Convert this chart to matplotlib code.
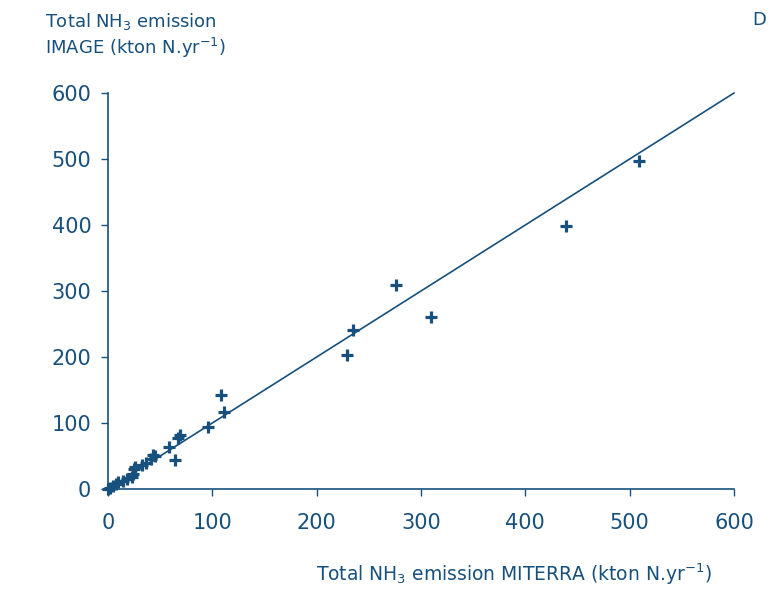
import matplotlib.pyplot as plt
import numpy as np

# MITERRA vs IMAGE total NH3 emission (kton N/yr)
miterra = [0, 2, 5, 8, 10, 14, 18, 23, 24, 25, 26, 33, 36, 41, 43, 45,
           58, 64, 67, 69, 96, 108, 111, 229, 235, 276, 310, 439, 509]
image = [0, 2, 4, 7, 10, 12, 15, 18, 23, 30, 34, 36, 40, 46, 52, 50,
         63, 44, 77, 82, 94, 142, 117, 203, 241, 309, 261, 398, 497]
line_x = [0, 600]
line_y = [0, 600]
ticks = [0, 100, 200, 300, 400, 500, 600]

col = '#17507c'

fig = plt.figure(figsize=(7.78, 5.89), dpi=100)
ax = fig.add_axes([108/778, 1-489/589, 626/778, 396/589])

ax.plot(line_x, line_y, color=col, lw=1.2)
ax.plot(miterra, image, linestyle='none', marker='+', ms=9, mew=2.3, color=col)

ax.set_xlim(0, 600)
ax.set_ylim(0, 600)
ax.set_xticks(ticks)
ax.set_yticks(ticks)
for s in ['top', 'right']:
    ax.spines[s].set_visible(False)
for s in ['left', 'bottom']:
    ax.spines[s].set_color(col)
    ax.spines[s].set_linewidth(1.2)
ax.tick_params(axis='both', colors=col, length=5, width=1.0, labelsize=15)
ax.tick_params(axis='x', pad=12)
ax.tick_params(axis='y', pad=7)
for ln in ax.lines:
    ln.set_clip_on(False)

fig.text(45/778, 1-21/589, 'Total NH$_3$ emission', color=col, fontsize=13,
         ha='left', va='center')
fig.text(45/778, 1-48/589, 'IMAGE (kton N.yr$^{-1}$)', color=col, fontsize=13,
         ha='left', va='center')
fig.text(316/778, 1-574/589, 'Total NH$_3$ emission MITERRA (kton N.yr$^{-1}$)',
         color=col, fontsize=13.5, ha='left', va='center')
fig.text(752/778, 1-20/589, 'D', color=col, fontsize=13, ha='left', va='center')

fig.savefig('out.png', dpi=100)
